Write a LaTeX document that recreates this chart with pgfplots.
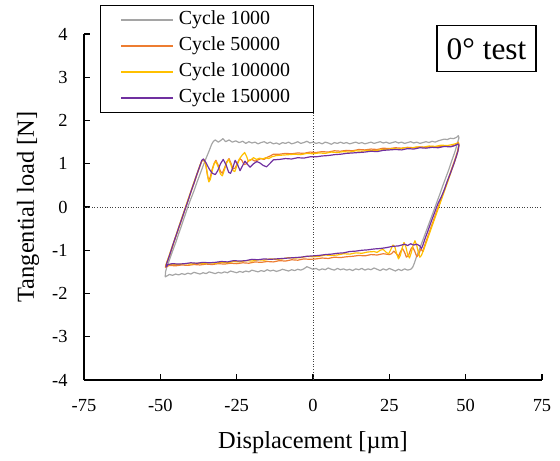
\documentclass[border=0pt]{standalone}
\usepackage{fontspec}
\setmainfont{Liberation Serif}
\usepackage{pgfplots}
\pgfplotsset{compat=1.18}
\definecolor{c1000}{HTML}{A5A5A5}
\definecolor{c50k}{HTML}{ED7D31}
\definecolor{c100k}{HTML}{FFC000}
\definecolor{c150k}{HTML}{7030A0}
\newcommand{\legbox}[1]{\makebox[129bp][l]{#1}}
\begin{document}
\begin{tikzpicture}
\path[use as bounding box] (-84bp,-81bp) rectangle (476bp,380bp);
\begin{axis}[
  scale only axis, width=458bp, height=346bp, clip=false,
  xmin=-75, xmax=75, ymin=-4, ymax=4,
  xtick={-75,-50,-25,0,25,50,75}, ytick={-4,-3,-2,-1,0,1,2,3,4},
  axis x line*=bottom, axis y line*=left,
  xtick pos=left, ytick pos=left, tick align=inside,
  major tick length=6bp,
  axis line style={black, line width=1.2bp},
  tick style={black, line width=1.2bp},
  /pgf/number format/assume math mode=true,
  tick label style={font=\fontsize{18.5}{22}\selectfont},
  xticklabel style={yshift=-16bp},
  yticklabel style={xshift=-13bp},
  xlabel={Displacement [µm]}, ylabel={Tangential load [N]},
  label style={font=\fontsize{24.5}{29}\selectfont},
  xlabel style={at={(axis description cs:0.5,-0.18)}, anchor=center},
  ylabel style={at={(axis description cs:-0.122,0.5)}, anchor=center},
  legend cell align=left,
  legend style={at={(axis description cs:0.035,1.084)}, anchor=north west,
    draw=black, line width=1.2bp, font=\fontsize{20}{24}\selectfont,
    inner xsep=4bp, inner ysep=3bp, row sep=3bp,
    nodes={inner sep=2bp, text height=14bp, text depth=5bp}},
  legend image code/.code={\path (0bp,0bp) (71bp,0bp); \draw[#1] (16bp,0bp) -- (68bp,0bp);},
  every axis plot/.append style={line width=1.2pt, line join=round},
]
\addplot[forget plot, black!75, line width=0.6pt, dotted] coordinates {(-75,0) (75,0)};
\addplot[forget plot, black!75, line width=0.6pt, dotted] coordinates {(0,-4) (0,4)};

% Cycle 1000
\addplot[c1000] coordinates {
(-48.4,-1.62) (-48.3,-1.50) (-48.0,-1.42) (-47.0,-1.22) (-46.0,-1.02) (-45.0,-0.83) (-44.0,-0.62) (-43.0,-0.42) (-42.0,-0.21) (-41.0,0.00) (-40.0,0.19) (-39.0,0.37) (-38.0,0.57) (-37.0,0.76) (-36.0,0.95) (-35.0,1.13) (-34.0,1.30) (-33.2,1.45) (-32.6,1.52)
(-32.0,1.55) (-31.0,1.50) (-30.2,1.54) (-29.5,1.58) (-28.6,1.51) (-27.5,1.55) (-26.4,1.50) (-25.3,1.53) (-24.2,1.49) (-23.0,1.52) (-22.0,1.47) (-21.0,1.51) (-20.0,1.48) (-19.0,1.50) (-18.0,1.46) (-17.0,1.49) (-16.0,1.51) (-15.0,1.47) (-14.0,1.50) (-13.0,1.46) (-12.0,1.48) (-11.0,1.45) (-10.0,1.49) (-9.0,1.47) (-8.0,1.50) (-7.0,1.46) (-6.0,1.48) (-5.0,1.51) (-4.0,1.47) (-3.0,1.49) (-2.0,1.52) (-1.0,1.48) (0.0,1.50) (1.0,1.47) (2.0,1.49) (3.0,1.46) (4.0,1.50) (5.0,1.48) (6.0,1.45) (7.0,1.49) (8.0,1.47) (9.0,1.50) (10.0,1.47) (11,1.49) (12,1.46) (13,1.48) (14,1.50) (15,1.47) (16,1.49) (17,1.46) (18,1.48) (19,1.50) (20,1.47) (21,1.49) (22,1.51) (23,1.48) (24,1.50) (25,1.47) (26,1.49) (27,1.51) (28,1.48) (29,1.50) (30,1.47) (31,1.49) (32,1.51) (33,1.48) (34,1.50) (35,1.47) (36,1.49) (37,1.51) (38,1.49) (39,1.52) (40,1.50) (41,1.53) (42,1.55) (43,1.57) (44,1.56) (45,1.59) (46,1.58) (47,1.61) (47.6,1.65)
(47.8,1.60) (47.2,1.45) (46.5,1.28) (45.5,1.08) (44.5,0.87) (43.5,0.68) (42.5,0.49) (41.5,0.29) (40.5,0.10) (40.0,0.00) (39.0,-0.19) (38.0,-0.38) (37.0,-0.57) (36.0,-0.76) (35.0,-0.95) (34.0,-1.13) (33.2,-1.30) (32.6,-1.40) (32.0,-1.44)
(31,-1.46) (30,-1.43) (29,-1.47) (28,-1.44) (27,-1.48) (26,-1.45) (25,-1.42) (24,-1.46) (23,-1.43) (22,-1.47) (21,-1.44) (20,-1.41) (19,-1.45) (18,-1.43) (17,-1.46) (16,-1.42) (15,-1.45) (14,-1.43) (13,-1.47) (12,-1.44) (11,-1.46) (10,-1.43) (9,-1.45) (8,-1.42) (7,-1.46) (6,-1.44) (5,-1.41) (4,-1.45) (3,-1.43) (2,-1.46) (1,-1.42) (0,-1.44) (-1,-1.41) (-2,-1.38) (-3,-1.43) (-4,-1.46) (-5,-1.44) (-6,-1.47) (-7,-1.45) (-8,-1.48) (-9,-1.46) (-10,-1.44) (-11,-1.47) (-12,-1.49) (-13,-1.46) (-14,-1.48) (-15,-1.45) (-16,-1.49) (-17,-1.47) (-18,-1.50) (-19,-1.48) (-20,-1.46) (-21,-1.50) (-22,-1.48) (-23,-1.51) (-24,-1.49) (-25,-1.52) (-26,-1.50) (-27,-1.48) (-28,-1.52) (-29,-1.50) (-30,-1.53) (-31,-1.51) (-32,-1.54) (-33,-1.52) (-34,-1.50) (-35,-1.54) (-36,-1.52) (-37,-1.55) (-38,-1.53) (-39,-1.51) (-40,-1.55) (-41,-1.53) (-42,-1.56) (-43,-1.54) (-44,-1.57) (-45,-1.55) (-46,-1.58) (-47,-1.56) (-48,-1.60) (-48.4,-1.62)
};
\addlegendentry{\legbox{Cycle 1000}}

% Cycle 50000
\addplot[c50k] coordinates {
(-48.4,-1.40) (-48.0,-1.32) (-47,-1.12) (-46,-0.92) (-45,-0.70) (-44,-0.50) (-43,-0.29) (-42,-0.08) (-41,0.13) (-40,0.34) (-39,0.54) (-38,0.75) (-37,0.95) (-36.5,1.05) (-35.9,1.10)
(-35.2,1.00) (-34.6,0.75) (-34.2,0.62) (-33.7,0.68) (-33,0.88) (-32.3,1.02) (-31.8,1.08) (-31,0.96) (-30.3,0.82) (-29.7,0.78) (-29,0.90) (-28.2,1.05) (-27.5,1.12) (-26.8,1.00) (-26.2,0.88) (-25.5,0.90) (-24.7,1.02) (-24,1.12) (-23.3,1.08) (-22.6,0.98) (-21.8,1.00) (-21,1.08) (-20,1.10) (-19,1.06) (-18,1.09) (-17,1.12) (-16,1.10) (-15,1.15) (-14,1.18) (-13,1.22)
(-11,1.22) (-9,1.24) (-7,1.23) (-5,1.25) (-3,1.24) (-1,1.27) (1,1.26) (3,1.28) (5,1.27) (7,1.30) (9,1.29) (11,1.31) (13,1.30) (15,1.33) (17,1.32) (19,1.34) (21,1.33) (23,1.36) (25,1.35) (27,1.37) (29,1.36) (31,1.38) (33,1.37) (35,1.39) (37,1.38) (39,1.40) (41,1.39) (43,1.41) (45,1.40) (46.5,1.43) (47.6,1.50)
(47.8,1.45) (47.3,1.28) (46.5,1.10) (45.5,0.90) (44.5,0.69) (43.5,0.49) (42.5,0.29) (41.5,0.09) (41,0.00) (40,-0.20) (39,-0.40) (38,-0.60) (37,-0.80) (36.3,-0.95) (36,-1.03)
(35.3,-0.97) (34.6,-1.10) (34,-1.15) (33.3,-1.02) (32.6,-0.92) (32,-0.98) (31.3,-1.12) (30.6,-1.16) (30,-1.05) (29.3,-0.96) (28.6,-1.04) (28,-1.14) (27.3,-1.08) (26.5,-1.02) (25.7,-1.08) (25,-1.10) (23,-1.08) (21,-1.11) (19,-1.10) (17,-1.13) (15,-1.12) (13,-1.14) (11,-1.15) (9,-1.17) (7,-1.16) (5,-1.19) (3,-1.18) (1,-1.20) (-1,-1.21) (-3,-1.20) (-5,-1.23) (-7,-1.22) (-9,-1.25) (-11,-1.24) (-13,-1.27) (-15,-1.26) (-17,-1.28) (-19,-1.27) (-21,-1.30) (-23,-1.29) (-25,-1.31) (-27,-1.30) (-29,-1.32) (-31,-1.31) (-33,-1.33) (-35,-1.32) (-37,-1.34) (-39,-1.33) (-41,-1.35) (-43,-1.34) (-45,-1.36) (-47,-1.35) (-48,-1.38) (-48.4,-1.40)
};
\addlegendentry{\legbox{Cycle 50000}}

% Cycle 100000
\addplot[c100k] coordinates {
(-48.3,-1.36) (-48,-1.30) (-47,-1.10) (-46,-0.89) (-45,-0.68) (-44,-0.47) (-43,-0.26) (-42,-0.05) (-41,0.16) (-40,0.36) (-39,0.57) (-38,0.77) (-37,0.97) (-36.3,1.08)
(-35.7,1.10) (-35,0.95) (-34.5,0.72) (-34.1,0.58) (-33.6,0.64) (-33,0.84) (-32.4,1.00) (-31.8,1.05) (-31,0.92) (-30.3,0.76) (-29.7,0.72) (-29,0.86) (-28.3,1.02) (-27.6,1.10) (-26.9,0.98) (-26.2,0.84) (-25.6,0.82) (-24.8,0.98) (-24,1.12) (-23.2,1.20) (-22.4,1.26) (-21.8,1.18) (-21.2,1.06) (-20.5,1.08) (-19.5,1.14) (-18.5,1.10) (-17.5,1.13) (-16.5,1.11) (-15.5,1.14) (-14.5,1.12) (-13.5,1.16) (-12,1.19)
(-10,1.20) (-8,1.21) (-6,1.22) (-4,1.21) (-2,1.24) (0,1.23) (2,1.25) (4,1.24) (6,1.27) (8,1.26) (10,1.28) (12,1.27) (14,1.30) (16,1.29) (18,1.31) (20,1.30) (22,1.32) (24,1.33) (26,1.35) (28,1.34) (30,1.37) (32,1.36) (34,1.39) (36,1.38) (38,1.41) (40,1.40) (42,1.43) (44,1.42) (46,1.45) (47.6,1.48)
(47.8,1.42) (47.3,1.25) (46.5,1.07) (45.5,0.87) (44.5,0.66) (43.5,0.46) (42.5,0.26) (41.5,0.06) (41.2,0.00) (40.2,-0.20) (39.2,-0.40) (38.2,-0.60) (37.2,-0.80) (36.2,-1.00) (35.5,-1.12) (35,-1.16)
(34.5,-1.05) (34,-0.90) (33.4,-0.78) (32.8,-0.88) (32.2,-1.05) (31.6,-1.18) (31,-1.10) (30.4,-0.92) (29.8,-0.82) (29.2,-0.95) (28.6,-1.12) (28,-1.20) (27.4,-1.08) (26.8,-0.92) (26.2,-0.88) (25.5,-0.98) (24.8,-1.08) (24,-1.05) (23,-0.98) (22,-1.00) (21,-1.05) (20,-1.03) (18,-1.04) (16,-1.07) (14,-1.06) (12,-1.09) (10,-1.08) (8,-1.11) (6,-1.12) (4,-1.11) (2,-1.14) (0,-1.15) (-2,-1.14) (-4,-1.17) (-6,-1.18) (-8,-1.17) (-10,-1.20) (-12,-1.21) (-14,-1.20) (-16,-1.23) (-18,-1.22) (-20,-1.25) (-22,-1.24) (-24,-1.27) (-26,-1.26) (-28,-1.29) (-30,-1.28) (-32,-1.30) (-34,-1.29) (-36,-1.31) (-38,-1.30) (-40,-1.32) (-42,-1.31) (-44,-1.33) (-46,-1.32) (-47.5,-1.34) (-48.3,-1.36)
};
\addlegendentry{\legbox{Cycle 100000}}

% Cycle 150000
\addplot[c150k] coordinates {
(-48.2,-1.38) (-47.9,-1.30) (-47.0,-1.12) (-46,-0.90) (-45,-0.69) (-44,-0.48) (-43,-0.28) (-42,-0.07) (-41,0.13) (-40,0.35) (-39,0.55) (-38,0.76) (-37,0.96) (-36.4,1.08)
(-35.9,1.11) (-35,1.02) (-34,0.88) (-33,0.78) (-32,0.75) (-31.2,0.84) (-30.3,1.00) (-29.4,1.10) (-28.5,0.98) (-27.6,0.80) (-27,0.78) (-26.2,0.92) (-25.5,1.08) (-24.7,0.98) (-23.9,0.84) (-23.1,0.95) (-22.3,1.06) (-21.5,0.99) (-20.6,0.92) (-19.5,1.00) (-18.4,1.05) (-17.4,1.02) (-16.3,0.96) (-15.2,0.93) (-14.2,1.00) (-13,1.09)
(-11,1.10) (-9,1.12) (-7,1.11) (-5,1.14) (-3,1.13) (-1,1.16) (1,1.16) (3,1.18) (5,1.19) (7,1.21) (9,1.22) (11,1.24) (13,1.25) (15,1.26) (17,1.27) (19,1.29) (21,1.28) (23,1.31) (25,1.32) (27,1.33) (29,1.32) (31,1.35) (33,1.34) (35,1.37) (37,1.36) (39,1.38) (41,1.37) (43,1.40) (45,1.39) (46.5,1.42) (47.5,1.46)
(47.8,1.43) (47.5,1.30) (47,1.18) (46,0.97) (45,0.78) (44,0.60) (43,0.40) (42,0.23) (41,0.09) (40.5,0.00) (39.5,-0.19) (38.5,-0.38) (37.5,-0.58) (36.5,-0.77) (35.8,-0.92) (35.5,-0.96)
(35,-0.90) (34,-0.86) (33,-0.88) (32,-0.85) (31,-0.89) (30,-0.86) (29,-0.88) (28,-0.90) (26,-0.91) (24,-0.94) (22,-0.96) (20,-0.97) (18,-0.99) (16,-1.00) (14,-1.02) (12,-1.03) (10,-1.06) (8,-1.07) (6,-1.09) (4,-1.10) (2,-1.12) (0,-1.13) (-2,-1.14) (-4,-1.16) (-6,-1.17) (-8,-1.18) (-10,-1.19) (-12,-1.20) (-14,-1.21) (-16,-1.20) (-18,-1.22) (-20,-1.21) (-22,-1.24) (-24,-1.25) (-26,-1.24) (-28,-1.27) (-30,-1.26) (-32,-1.28) (-34,-1.29) (-36,-1.28) (-38,-1.30) (-40,-1.29) (-42,-1.31) (-44,-1.32) (-46,-1.31) (-47.5,-1.33) (-48,-1.38) (-48.2,-1.38)
};
\addlegendentry{\legbox{Cycle 150000}}

\node[draw=black, line width=1.2bp, minimum width=99bp, minimum height=46bp, inner sep=0pt,
  font=\fontsize{31.5}{36}\selectfont] at (axis description cs:0.879,0.957) {0° test};
\end{axis}
\end{tikzpicture}
\end{document}
